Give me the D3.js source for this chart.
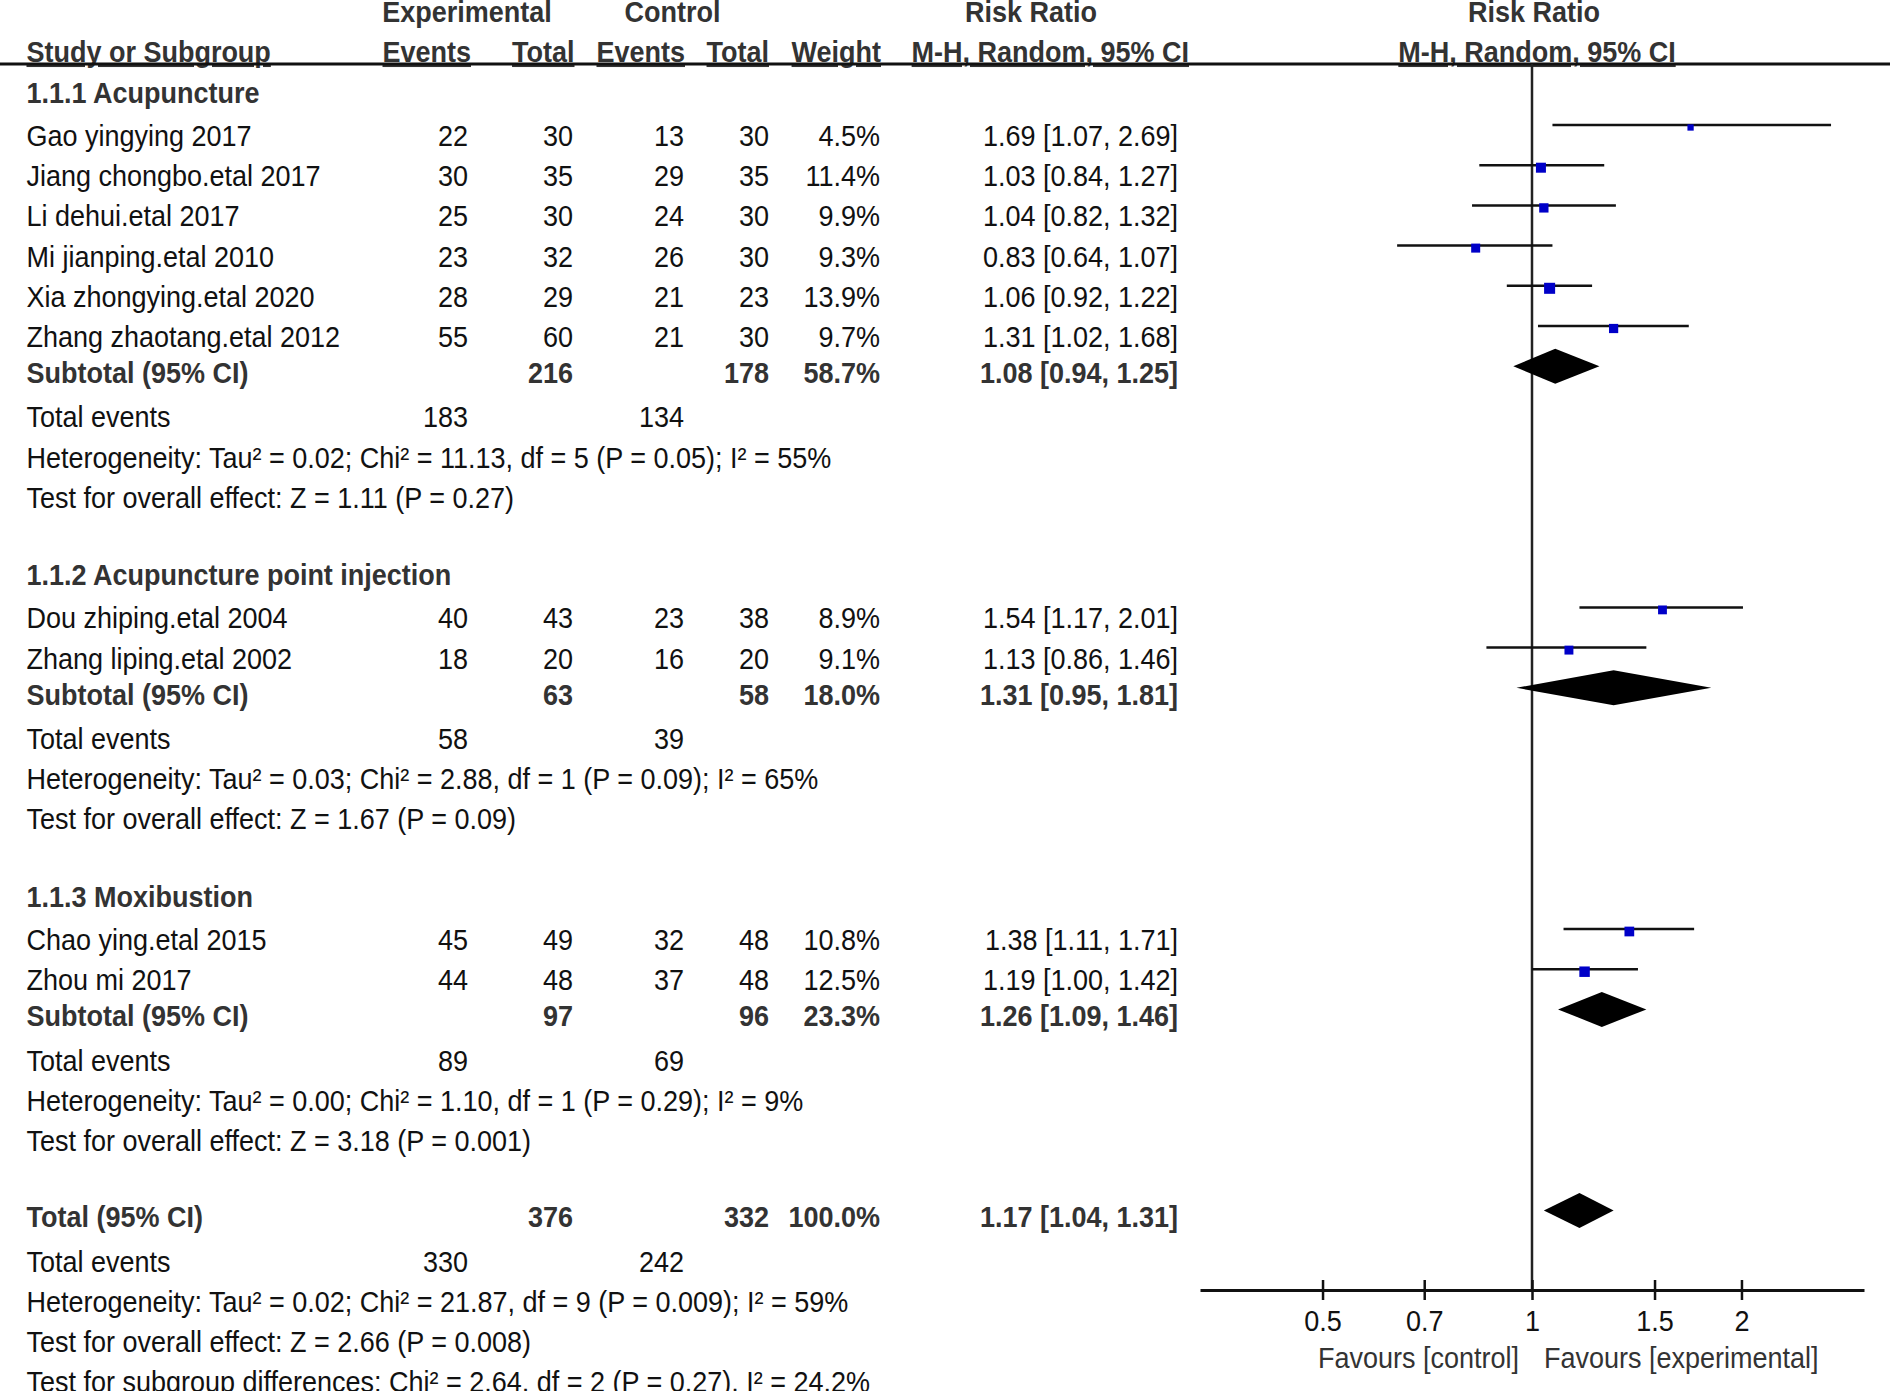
<!DOCTYPE html>
<html>
<head>
<meta charset="utf-8">
<script src="https://cdn.jsdelivr.net/npm/d3@7"></script>
<style>
  body { margin: 0; background: #fff; }
  svg { display: block; font-family: "Liberation Sans", Arial, sans-serif; font-size: 29.5px; }
</style>
</head>
<body>
<div id="chart"></div>
<script>
// subgroups
const groups = ['1.1.1 Acupuncture', '1.1.2 Acupuncture point injection', '1.1.3 Moxibustion'];
// studies
const studies = ['Gao yingying 2017', 'Jiang chongbo.etal 2017', 'Li dehui.etal 2017', 'Mi jianping.etal 2010',
    'Xia zhongying.etal 2020', 'Zhang zhaotang.etal 2012', 'Dou zhiping.etal 2004', 'Zhang liping.etal 2002',
    'Chao ying.etal 2015', 'Zhou mi 2017'];
const studyGroup = [0, 0, 0, 0, 0, 0, 1, 1, 2, 2];
const expEvents = [22, 30, 25, 23, 28, 55, 40, 18, 45, 44];
const expTotal = [30, 35, 30, 32, 29, 60, 43, 20, 49, 48];
const ctrlEvents = [13, 29, 24, 26, 21, 21, 23, 16, 32, 37];
const ctrlTotal = [30, 35, 30, 30, 23, 30, 38, 20, 48, 48];
const weights = [4.5, 11.4, 9.9, 9.3, 13.9, 9.7, 8.9, 9.1, 10.8, 12.5];
const rr = [1.69, 1.03, 1.04, 0.83, 1.06, 1.31, 1.54, 1.13, 1.38, 1.19];
const rrLow = [1.07, 0.84, 0.82, 0.64, 0.92, 1.02, 1.17, 0.86, 1.11, 1.00];
const rrHigh = [2.69, 1.27, 1.32, 1.07, 1.22, 1.68, 2.01, 1.46, 1.71, 1.42];
// subtotals
const subExpTotal = [216, 63, 97];
const subCtrlTotal = [178, 58, 96];
const subExpEvents = [183, 58, 89];
const subCtrlEvents = [134, 39, 69];
const subWeight = [58.7, 18.0, 23.3];
const subRR = [1.08, 1.31, 1.26];
const subLow = [0.94, 0.95, 1.09];
const subHigh = [1.25, 1.81, 1.46];
const subHet = [
    'Heterogeneity: Tau² = 0.02; Chi² = 11.13, df = 5 (P = 0.05); I² = 55%',
    'Heterogeneity: Tau² = 0.03; Chi² = 2.88, df = 1 (P = 0.09); I² = 65%',
    'Heterogeneity: Tau² = 0.00; Chi² = 1.10, df = 1 (P = 0.29); I² = 9%'];
const subEffect = [
    'Test for overall effect: Z = 1.11 (P = 0.27)',
    'Test for overall effect: Z = 1.67 (P = 0.09)',
    'Test for overall effect: Z = 3.18 (P = 0.001)'];
// overall
const totalExp = 376, totalCtrl = 332, totalWeight = 100.0;
const totalExpEvents = 330, totalCtrlEvents = 242;
const totalRR = 1.17, totalLow = 1.04, totalHigh = 1.31;
const totalHet = 'Heterogeneity: Tau² = 0.02; Chi² = 21.87, df = 9 (P = 0.009); I² = 59%';
const totalEffect = 'Test for overall effect: Z = 2.66 (P = 0.008)';
const subgroupTest = 'Test for subgroup differences: Chi² = 2.64, df = 2 (P = 0.27), I² = 24.2%';
// axis
const tickValues = [0.5, 0.7, 1, 1.5, 2];
const axisDomain = [1 / 3, 3];
const favours = ['Favours [control]', 'Favours [experimental]'];

// layout constants
const w = 1890;
const h = 1391;
const sx = 0.915; // horizontal squeeze of the condensed font
const col = { name: 26.5, expEv: 468, expTot: 573, ctlEv: 684, ctlTot: 769, weight: 880, ci: 1178 };
const axisY = 1290;
const ruleY = 64;

const f2 = d3.format('.2f');
const f1 = d3.format('.1f');
const ciText = (m, l, u) => `${f2(m)} [${f2(l)}, ${f2(u)}]`;

const svg = d3.select('#chart').append('svg')
    .attr('width', w)
    .attr('height', h)
    .attr('viewBox', `0 0 ${w} ${h}`);

const x = d3.scaleLog().domain(axisDomain).range([1200, 1864]);
// row index -> text baseline
const y = d3.scaleLinear().domain([0, 32]).range([105.8, 105.8 + 40.2 * 32]);
const markY = i => y(i) - 21;

function cell(px, py, str, anchor = 'start', bold = false, deco = null) {
    const t = svg.append('text')
        .attr('transform', `translate(${px},${py}) scale(${sx},1)`)
        .attr('text-anchor', anchor)
        .attr('font-weight', bold ? 'bold' : 'normal')
        .attr('fill', bold ? '#333' : '#111')
        .text(str);
    if (deco) t.style('text-decoration', deco);
    return t;
}

// headers
cell(467, 22, 'Experimental', 'middle', true);
cell(672.5, 22, 'Control', 'middle', true);
cell(1031, 22, 'Risk Ratio', 'middle', true);
cell(1534, 22, 'Risk Ratio', 'middle', true);
cell(col.name, 62, 'Study or Subgroup', 'start', true, 'underline');
cell(471, 62, 'Events', 'end', true, 'underline');
cell(574.5, 62, 'Total', 'end', true, 'underline');
cell(685, 62, 'Events', 'end', true, 'underline');
cell(769, 62, 'Total', 'end', true, 'underline');
cell(881, 62, 'Weight', 'end', true, 'underline');
cell(1189, 62, 'M-H, Random, 95% CI', 'end', true, 'underline');
cell(1537, 62, 'M-H, Random, 95% CI', 'middle', true, 'underline');

svg.append('line')
    .attr('x1', 0).attr('x2', w)
    .attr('y1', ruleY).attr('y2', ruleY)
    .attr('stroke', '#111').attr('stroke-width', 3);

// build the rows
const studyRows = [];
const subRows = [];
let r = 0;
groups.forEach((g, gi) => {
    cell(col.name, y(r) - 3, g, 'start', true);
    r++;
    studies.forEach((s, i) => {
        if (studyGroup[i] !== gi) return;
        studyRows.push({ i, row: r });
        r++;
    });
    subRows.push({ gi, row: r });
    r += 5; // subtotal, events, heterogeneity, effect, blank
});
const totalRow = r;

// vertical line of no effect
svg.append('line')
    .attr('x1', x(1)).attr('x2', x(1))
    .attr('y1', ruleY).attr('y2', axisY)
    .attr('stroke', '#222').attr('stroke-width', 2.5);

// study rows
studyRows.forEach(({ i, row }) => {
    const ty = y(row);
    cell(col.name, ty, studies[i]);
    cell(col.expEv, ty, expEvents[i], 'end');
    cell(col.expTot, ty, expTotal[i], 'end');
    cell(col.ctlEv, ty, ctrlEvents[i], 'end');
    cell(col.ctlTot, ty, ctrlTotal[i], 'end');
    cell(col.weight, ty, f1(weights[i]) + '%', 'end');
    cell(col.ci, ty, ciText(rr[i], rrLow[i], rrHigh[i]), 'end');
});

svg.append('g').selectAll('line')
    .data(studyRows)
    .join('line')
    .attr('x1', d => x(rrLow[d.i]))
    .attr('x2', d => x(rrHigh[d.i]))
    .attr('y1', d => markY(d.row))
    .attr('y2', d => markY(d.row))
    .attr('stroke', '#111')
    .attr('stroke-width', 2.5);

svg.append('g').selectAll('rect')
    .data(studyRows)
    .join('rect')
    .attr('x', d => x(rr[d.i]) - 1.48 * Math.sqrt(weights[d.i]))
    .attr('y', d => markY(d.row) + 2.5 - 1.48 * Math.sqrt(weights[d.i]))
    .attr('width', d => 2.96 * Math.sqrt(weights[d.i]))
    .attr('height', d => 2.96 * Math.sqrt(weights[d.i]))
    .attr('fill', '#0000c8');

// subtotal rows
const diamond = (m, l, u, cy) => `M${x(l)},${cy}L${x(m)},${cy - 17.5}L${x(u)},${cy}L${x(m)},${cy + 17.5}Z`;

subRows.forEach(({ gi, row }) => {
    const ty = y(row) - 4;
    cell(col.name, ty, 'Subtotal (95% CI)', 'start', true);
    cell(col.expTot, ty, subExpTotal[gi], 'end', true);
    cell(col.ctlTot, ty, subCtrlTotal[gi], 'end', true);
    cell(col.weight, ty, f1(subWeight[gi]) + '%', 'end', true);
    cell(col.ci, ty, ciText(subRR[gi], subLow[gi], subHigh[gi]), 'end', true);
    cell(col.name, y(row + 1), 'Total events');
    cell(col.expEv, y(row + 1), subExpEvents[gi], 'end');
    cell(col.ctlEv, y(row + 1), subCtrlEvents[gi], 'end');
    cell(col.name, y(row + 2), subHet[gi]);
    cell(col.name, y(row + 3), subEffect[gi]);
});

svg.append('g').selectAll('path')
    .data(subRows)
    .join('path')
    .attr('d', d => diamond(subRR[d.gi], subLow[d.gi], subHigh[d.gi], markY(d.row)))
    .attr('fill', '#000');

// overall
const ty0 = y(totalRow) - 4;
cell(col.name, ty0, 'Total (95% CI)', 'start', true);
cell(col.expTot, ty0, totalExp, 'end', true);
cell(col.ctlTot, ty0, totalCtrl, 'end', true);
cell(col.weight, ty0, f1(totalWeight) + '%', 'end', true);
cell(col.ci, ty0, ciText(totalRR, totalLow, totalHigh), 'end', true);
cell(col.name, y(totalRow + 1), 'Total events');
cell(col.expEv, y(totalRow + 1), totalExpEvents, 'end');
cell(col.ctlEv, y(totalRow + 1), totalCtrlEvents, 'end');
cell(col.name, y(totalRow + 2), totalHet);
cell(col.name, y(totalRow + 3), totalEffect);
cell(col.name, y(totalRow + 4), subgroupTest);

svg.append('path')
    .attr('d', diamond(totalRR, totalLow, totalHigh, markY(totalRow)))
    .attr('fill', '#000');

// x axis
const xAxis = d3.axisBottom(x)
    .tickValues(tickValues)
    .tickFormat(d3.format(''))
    .tickSizeInner(10)
    .tickSizeOuter(0);

const gx = svg.append('g')
    .attr('transform', `translate(0, ${axisY})`)
    .call(xAxis);
gx.select('.domain').attr('stroke', '#111').attr('stroke-width', 3);
gx.selectAll('.tick line').attr('y1', -10).attr('y2', 10).attr('stroke', '#111').attr('stroke-width', 2.5);
gx.selectAll('.tick text')
    .attr('y', 41)
    .attr('dy', null)
    .attr('transform', `scale(${sx},1)`)
    .attr('fill', '#111')
    .style('font-family', '"Liberation Sans", Arial, sans-serif')
    .style('font-size', '29.5px');

cell(x(1) - 13, 1368, favours[0], 'end').attr('fill', '#333');
cell(x(1) + 12, 1368, favours[1], 'start').attr('fill', '#333');
</script>
</body>
</html>
